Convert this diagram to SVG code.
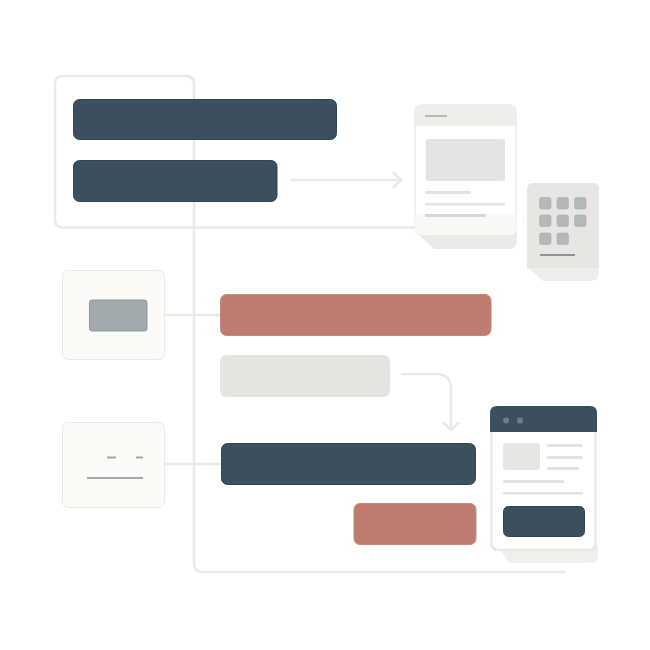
<svg xmlns="http://www.w3.org/2000/svg" width="650" height="650" viewBox="0 0 650 650">
<style>
.c{fill:none;stroke:#ebe9e3;stroke-width:2.500;stroke-linecap:round;stroke-linejoin:round}
.navy{fill:#3b4f5d;stroke:#2f4655;stroke-width:1}
.red{fill:#bf7b70;stroke:#c4887d;stroke-width:1}
.l{fill:#e3e2de}
.tile{fill:#fbfaf6;stroke:#ebe9e3;stroke-width:1}
.k{fill:#b5b8b9;stroke:#a8acad;stroke-width:.6}
</style>
<rect width="650" height="650" fill="#fff"/>
<g id="connectors">
<path class="c" d="M194 85V563Q194 572 203 572H565"/>
<path class="c" d="M194 227.500H63Q55 227.500 55 219.500V84Q55 76 63 76H186Q194 76 194 84"/>
<path class="c" d="M194 227.500H416"/>
<path class="c" d="M291 180H401M393.500 173L401.500 180L393.500 187"/>
<path class="c" d="M165 315H220"/>
<path class="c" d="M165 464H221"/>
<path class="c" d="M402 374H436Q451 374 451 389V430M444 423L451 430L458 423"/>
</g>
<g id="bar-top"><rect class="navy" x="73.500" y="99.500" width="263" height="40" rx="6"/></g>
<g id="bar-second"><rect class="navy" x="73.500" y="160.500" width="203.500" height="41" rx="6"/></g>
<g id="bar-red"><rect class="red" x="220.500" y="294.500" width="270.500" height="41" rx="6"/></g>
<g id="bar-grey"><rect x="220" y="355" width="170" height="42" rx="6" fill="#e5e4e1"/></g>
<g id="bar-navy"><rect class="navy" x="221.500" y="443.500" width="254" height="41" rx="6"/></g>
<g id="bar-red-small"><rect class="red" x="354" y="503.500" width="122" height="41" rx="6"/></g>
<g id="tile-top">
<rect class="tile" x="62.500" y="270.500" width="102" height="89" rx="6"/>
<rect x="89.500" y="300" width="57.500" height="31" rx="2.500" fill="#a2a9ab" stroke="#8b979d"/>
</g>
<g id="tile-bottom">
<rect class="tile" x="62.500" y="422.500" width="102" height="85" rx="6"/>
<path d="M107 457.500H116M136 457.500H143M87 478H143" fill="none" stroke="#a2a8a9" stroke-width="2"/>
</g>
<g id="page-top">
<path d="M416 232H517V240Q517 249 508 249H434Z" fill="#ebeae6"/>
<rect x="415" y="105" width="101" height="130" rx="7" fill="#fff" stroke="#ecebe6" stroke-width="1.500"/>
<path d="M414.500 126V111Q414.500 104.500 421 104.500H510Q516.500 104.500 516.500 111V126Z" fill="#efeeeb"/>
<path d="M415 214H516V229Q516 235 510 235H421Q415 235 415 229Z" fill="#f9f8f3"/>
<path d="M425 116H447" stroke="#b7b8b3" stroke-width="2"/>
<rect x="426" y="139" width="79" height="42" rx="3" fill="#e5e4e2"/>
<rect class="l" x="425" y="191" width="46" height="3" rx="1.500"/>
<rect class="l" x="425" y="203" width="80" height="2.500" rx="1.200"/>
<rect x="425" y="214" width="61" height="3" rx="1" fill="#d8d7d2"/>
</g>
<g id="page-keypad">
<path d="M527 190Q527 183 534 183H592Q599 183 599 190V272Q599 281 590 281H543L527 267Z" fill="#efeeea"/>
<path d="M527 190Q527 183 534 183H592Q599 183 599 190V265Q599 268 596 268H527Z" fill="#e7e6e3"/>
<rect class="k" x="539.500" y="197.500" width="11.500" height="11.500" rx="2"/>
<rect class="k" x="557" y="197.500" width="11.500" height="11.500" rx="2"/>
<rect class="k" x="574.500" y="197.500" width="11.500" height="11.500" rx="2"/>
<rect class="k" x="539.500" y="215" width="11.500" height="11.500" rx="2"/>
<rect class="k" x="557" y="215" width="11.500" height="11.500" rx="2"/>
<rect class="k" x="574.500" y="215" width="11.500" height="11.500" rx="2"/>
<rect class="k" x="539.500" y="233" width="11.500" height="11.500" rx="2"/>
<rect class="k" x="557" y="233" width="11.500" height="11.500" rx="2"/>
<path d="M540 255H575" stroke="#8f9596" stroke-width="2"/>
</g>
<g id="page-bottom">
<path d="M497 545H598V555Q598 563 590 563H509Z" fill="#f0efeb"/>
<rect x="491.500" y="410" width="104" height="140" rx="6" fill="#fff" stroke="#e9e8e3" stroke-width="2.500"/>
<path d="M490 432V413Q490 406 497 406H590Q597 406 597 413V432Z" fill="#3b4f5d"/>
<circle cx="506" cy="420.500" r="3" fill="#6d7d87"/>
<circle cx="520" cy="420.500" r="3" fill="#6d7d87"/>
<rect x="503" y="443" width="37" height="27" rx="3" fill="#e7e6e3"/>
<rect class="l" x="547" y="444" width="36" height="3" rx="1.500"/>
<rect class="l" x="547" y="456" width="36" height="3" rx="1.500"/>
<rect class="l" x="547" y="467" width="32" height="3" rx="1.500"/>
<rect class="l" x="503" y="480" width="61" height="3" rx="1.500"/>
<rect class="l" x="503" y="492" width="80" height="2.500" rx="1.200"/>
<rect class="navy" x="503.500" y="506.500" width="81" height="30" rx="5"/>
</g>
</svg>
